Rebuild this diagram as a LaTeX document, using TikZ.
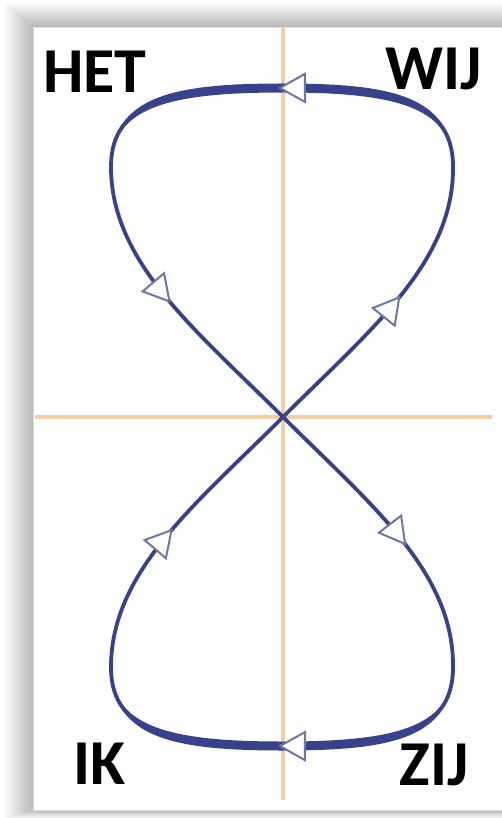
\documentclass[tikz,border=0pt]{standalone}
\usepackage{fontspec}
\setmainfont{Carlito}
\usetikzlibrary{arrows.meta,decorations.markings}
\definecolor{loopblue}{RGB}{55,66,138}
\definecolor{tipblue}{RGB}{110,118,165}
\definecolor{axisorange}{RGB}{242,206,162}
\begin{document}
\begin{tikzpicture}[x=1pt,y=-1pt,
  curve/.style={draw=loopblue,line width=3.8pt,line cap=round},
  thick part/.style={fill=loopblue},
  arrowmid/.style={postaction={decorate},decoration={markings,
     mark=at position #1 with {\arrow{Triangle[length=28pt,width=31pt,line width=2pt,color=tipblue,fill=white]}}}},
  lbl/.style={font=\fontsize{64}{64}\selectfont\bfseries,inner sep=0pt,text=black},
  axis/.style={draw=axisorange,line width=3.8pt}]
\useasboundingbox (0,0) rectangle (502,818);
\fill[white] (0,0) rectangle (502,818);
% soft shadow round the panel
\foreach \i in {1,...,14}
  \fill[black,opacity=0.018] (33-2*\i,27-1.7*\i) rectangle (520,810+0.6*\i);
% panel
\fill[white] (33,27) rectangle (520,810);
\draw[gray!30,line width=0.6pt] (33,27) rectangle (520,810);
% axes
\coordinate (vt) at (283,27);
\coordinate (vb) at (283,800);
\coordinate (hl) at (35,417);
\coordinate (hr) at (492,417);
\draw[axis] (vt) -- (vb);
\draw[axis] (hl) -- (hr);
% figure eight
\coordinate (c) at (283,417);
\coordinate (tr) at (453,165);
\coordinate (tl) at (111,165);
\coordinate (br) at (453,669);
\coordinate (bl) at (111,669);
% thicker top and bottom arcs
\fill[thick part] (tr) .. controls (452,95) and (390,83.5) .. (283,83.5) .. controls (176,83.5) and (112,95) .. (tl)
   .. controls (112,105) and (176,92.5) .. (283,92.5) .. controls (390,92.5) and (452,105) .. cycle;
\fill[thick part] (br) .. controls (452,739) and (390,750.5) .. (283,750.5) .. controls (176,750.5) and (112,739) .. (bl)
   .. controls (112,729) and (176,741.5) .. (283,741.5) .. controls (390,741.5) and (452,729) .. cycle;
% upper loop
\draw[curve,arrowmid=0.54] (c) .. controls (370,330) and (455,262) .. (tr);
\draw[curve,arrowmid=0.51] (tr) .. controls (452,100) and (390,88) .. (283,88) .. controls (176,88) and (112,100) .. (tl);
\draw[curve,arrowmid=0.49] (tl) .. controls (110,262) and (196,330) .. (c);
% lower loop
\draw[curve,arrowmid=0.57] (c) .. controls (370,504) and (455,572) .. (br);
\draw[curve,arrowmid=0.51] (br) .. controls (452,734) and (390,746) .. (283,746) .. controls (176,746) and (112,734) .. (bl);
\draw[curve,arrowmid=0.50] (bl) .. controls (110,572) and (196,504) .. (c);
% labels
\node[lbl,anchor=base west] (het) at (43,93) {HET};
\node[lbl,anchor=base east] (wij) at (482,90) {WIJ};
\node[lbl,anchor=base west] (ik) at (73,784) {IK};
\node[lbl,anchor=base east] (zij) at (469,785) {ZIJ};
\end{tikzpicture}
\end{document}
